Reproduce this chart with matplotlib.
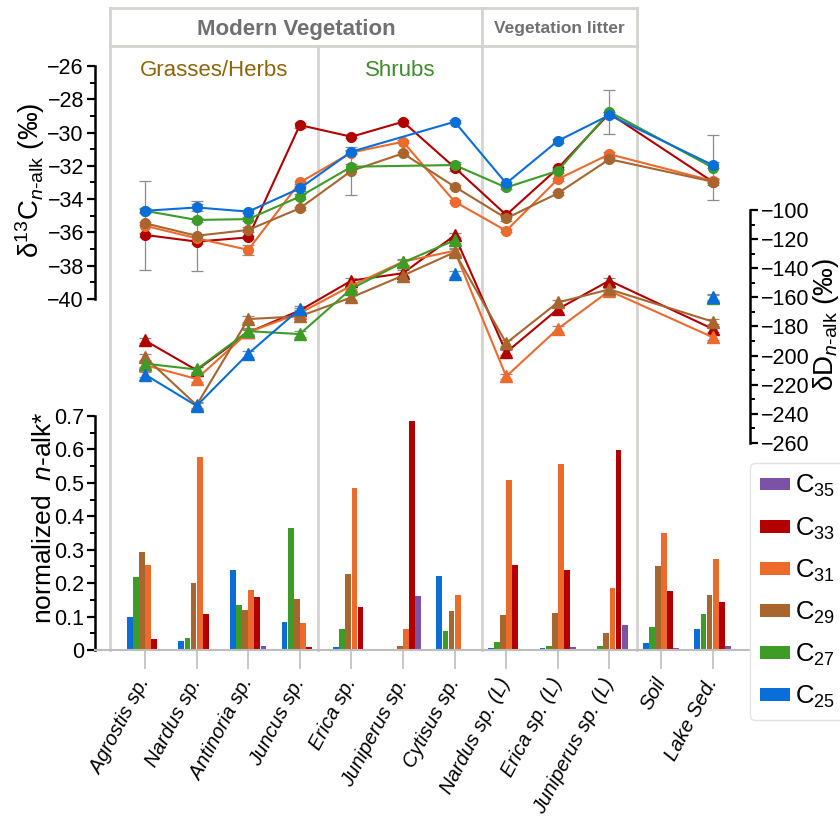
import numpy as np
import matplotlib
matplotlib.use("Agg")
import matplotlib.pyplot as plt
from matplotlib.patches import Patch
from matplotlib.ticker import MultipleLocator

plt.rcParams['font.family'] = ['Liberation Sans', 'DejaVu Sans']
plt.rcParams['mathtext.fontset'] = 'custom'
plt.rcParams['mathtext.rm'] = 'Liberation Sans'
plt.rcParams['mathtext.it'] = 'Liberation Sans:italic'

nan = np.nan

samples = ["Agrostis sp.", "Nardus sp.", "Antinoria sp.", "Juncus sp.", "Erica sp.",
           "Juniperus sp.", "Cytisus sp.", "Nardus sp. (L)", "Erica sp. (L)",
           "Juniperus sp. (L)", "Soil", "Lake Sed."]

# d13C of n-alkanes (permil)
d13c_c25 = [-34.7, -34.5, -34.75, -33.35, -31.15, nan, -29.35, -33.05, -30.5, -28.95, nan, -31.95]
d13c_c27 = [-34.7, -35.25, -35.2, -33.85, -32.05, nan, -31.95, -33.3, -32.3, -28.75, nan, -32.1]
d13c_c29 = [-35.45, -36.2, -35.85, -34.55, -32.3, -31.25, -33.25, -35.15, -33.65, -31.6, nan, -32.95]
d13c_c31 = [-35.6, -36.35, -37.05, -33.0, -31.2, -30.55, -34.15, -35.9, -32.8, -31.3, nan, -32.9]
d13c_c33 = [-36.15, -36.55, -36.3, -29.55, -30.25, -29.35, -32.1, -34.95, -32.15, -28.85, nan, -32.95]

# standard deviations (mostly small)
e13c_c25 = [0.15, 0.2, 0.1, 0.15, 0.1, nan, 0.1, 0.1, 0.1, 0.2, nan, 0.2]
e13c_c27 = [0.1, 0.1, 0.1, 0.15, 0.15, nan, 0.2, 0.1, 0.1, 1.33, nan, 1.95]
e13c_c29 = [0.1, 2.1, 0.15, 0.1, 1.45, 0.1, 0.1, 0.15, 0.1, 0.1, nan, 0.2]
e13c_c31 = [2.68, 0.15, 0.3, 0.1, 0.1, 0.1, 0.1, 0.1, 0.1, 0.15, nan, 0.1]
e13c_c33 = [0.1, 0.15, 0.1, 0.15, 0.1, 0.1, 0.2, 0.1, 0.1, 0.1, nan, 0.1]

# dD of n-alkanes (permil)
dd_c25 = [-213, -234.5, -198.7, -168, nan, nan, -144, nan, nan, nan, nan, -160]
dd_c27 = [-205.5, -209.5, -183.2, -185.2, -154, -136, -120.8, nan, nan, nan, nan, -160.5]
dd_c29 = [-201, -234, -174.9, -173, -160, -145, -129, -191.4, -163.5, -154.5, nan, -176.6]
dd_c31 = [-206.5, -216, -184, -170.8, -152, -135.5, -128, -214.3, -181.6, -155.5, nan, -187.3]
dd_c33 = [-189.6, -210, -184.1, -169, -148.5, -143.4, -117.5, -197.8, -168.1, -148.5, nan, -181.6]

# normalized n-alkane abundance
ab_c25 = [0.100, 0.027, 0.239, 0.084, 0.009, 0.001, 0.220, 0.007, 0.006, 0.002, 0.022, 0.063]
ab_c27 = [0.217, 0.036, 0.134, 0.365, 0.062, 0.001, 0.058, 0.025, 0.013, 0.011, 0.068, 0.109]
ab_c29 = [0.293, 0.200, 0.119, 0.152, 0.228, 0.012, 0.117, 0.106, 0.111, 0.050, 0.250, 0.165]
ab_c31 = [0.253, 0.577, 0.180, 0.081, 0.484, 0.062, 0.165, 0.508, 0.555, 0.185, 0.349, 0.271]
ab_c33 = [0.034, 0.107, 0.160, 0.009, 0.130, 0.685, 0.002, 0.253, 0.240, 0.597, 0.176, 0.143]
ab_c35 = [0.001, 0.002, 0.012, 0.004, 0.001, 0.162, 0.001, 0.004, 0.010, 0.074, 0.007, 0.012]

col = {"C25": "#0a6ed8", "C27": "#3c9c26", "C29": "#a8652e",
       "C31": "#ec6a2c", "C33": "#b20000", "C35": "#7b52a6"}

W, H = 840, 822


def rect(x0, y0, x1, y1):
    return [x0 / W, 1 - y1 / H, (x1 - x0) / W, (y1 - y0) / H]


fig = plt.figure(figsize=(W / 100, H / 100), dpi=100)
XL = (-0.969, 11.725)
x = np.arange(len(samples))

# background frame / separators
ax_bg = fig.add_axes(rect(95, 0, 750, 822))
ax_bg.set_xlim(XL)
ax_bg.set_ylim(822, 0)
ax_bg.axis("off")
gc = "#d3d3cf"
left_e, grass_e, mod_e, right_e = -0.68, 3.35, 6.53, 9.53
ax_bg.plot([left_e, right_e], [8, 8], color=gc, lw=2, clip_on=False)
ax_bg.plot([left_e, right_e], [46, 46], color=gc, lw=2, clip_on=False)
for xe in [left_e, mod_e, right_e]:
    ax_bg.plot([xe, xe], [8, 650], color=gc, lw=2, clip_on=False)
ax_bg.plot([grass_e, grass_e], [46, 650], color=gc, lw=2, clip_on=False)
ax_bg.text((left_e + mod_e) / 2, 29, "Modern Vegetation", ha="center", va="center",
           fontsize=16, fontweight="bold", color="#707070")
ax_bg.text((mod_e + right_e) / 2, 28, "Vegetation litter", ha="center", va="center",
           fontsize=12.5, fontweight="bold", color="#707070")
ax_bg.text((left_e + grass_e) / 2, 70, "Grasses/Herbs", ha="center", va="center",
           fontsize=16, color="#8b6508")
ax_bg.text((grass_e + mod_e) / 2, 70, "Shrubs", ha="center", va="center",
           fontsize=16, color="#3d8b2a")

# bars
ax_b = fig.add_axes(rect(95, 416, 750, 650))
ax_b.patch.set_visible(False)
bw = 0.118
bars = [("C25", ab_c25), ("C27", ab_c27), ("C29", ab_c29),
        ("C31", ab_c31), ("C33", ab_c33), ("C35", ab_c35)]
for k, (name, vals) in enumerate(bars):
    ax_b.bar(x + (k - 2.5) * bw, vals, width=bw * 0.95, color=col[name], zorder=2)
ax_b.set_xlim(XL)
ax_b.set_ylim(0, 0.7)
ax_b.yaxis.set_minor_locator(MultipleLocator(0.05))
ax_b.set_yticks([0, 0.1, 0.2, 0.3, 0.4, 0.5, 0.6, 0.7])
ax_b.set_yticklabels(["0", "0.1", "0.2", "0.3", "0.4", "0.5", "0.6", "0.7"])
for s in ["top", "right"]:
    ax_b.spines[s].set_visible(False)
ax_b.spines["left"].set_linewidth(1.8)
ax_b.spines["bottom"].set_color("#bdbdbd")
ax_b.spines["bottom"].set_linewidth(1.5)
ax_b.tick_params(axis="y", which="major", length=6, width=1.6, labelsize=15.5, pad=2)
ax_b.tick_params(axis="y", which="minor", length=3.5, width=1.4)
ax_b.set_xticks(x)
ax_b.set_xticklabels(samples, rotation=62, ha="right", va="center",
                     rotation_mode="anchor", fontsize=14.5, style="italic")
ax_b.tick_params(axis="x", length=14, width=1.2, color="#bdbdbd", pad=7)

# dD axis
ax_d = fig.add_axes(rect(95, 210, 750, 443))
ax_d.patch.set_visible(False)
ax_d.set_xlim(XL)
ax_d.set_ylim(-260, -100)
for s in ["top", "left", "bottom"]:
    ax_d.spines[s].set_visible(False)
ax_d.spines["right"].set_linewidth(1.8)
ax_d.yaxis.tick_right()
ax_d.set_yticks(np.arange(-260, -99, 20))
ax_d.yaxis.set_minor_locator(MultipleLocator(10))
ax_d.tick_params(axis="y", which="major", length=6, width=1.6, labelsize=15.5, pad=2)
ax_d.tick_params(axis="y", which="minor", length=3.5, width=1.4)
ax_d.set_xticks([])

# d13C axis
ax_c = fig.add_axes(rect(95, 66, 750, 299))
ax_c.patch.set_visible(False)
ax_c.set_xlim(XL)
ax_c.set_ylim(-40, -26)
for s in ["top", "right", "bottom"]:
    ax_c.spines[s].set_visible(False)
ax_c.spines["left"].set_linewidth(1.8)
ax_c.set_yticks(np.arange(-40, -25, 2))
ax_c.yaxis.set_minor_locator(MultipleLocator(1))
ax_c.tick_params(axis="y", which="major", length=6, width=1.6, labelsize=15.5, pad=2)
ax_c.tick_params(axis="y", which="minor", length=3.5, width=1.4)
ax_c.set_xticks([])


def draw(ax, vals, errs, color, marker, ms, join):
    v = np.array(vals, dtype=float)
    ok = ~np.isnan(v)
    if errs is not None:
        ax.errorbar(x[ok], v[ok], yerr=np.array(errs, dtype=float)[ok], fmt="none",
                    ecolor="#8c8c8c", elinewidth=0.9, capsize=4.5, capthick=0.9,
                    zorder=2, clip_on=False)
    if join:
        ax.plot(x[ok], v[ok], color=color, lw=1.5, marker=marker, ms=ms,
                mec=color, zorder=3, clip_on=False)
    else:
        ax.plot(x, v, color=color, lw=1.5, marker=marker, ms=ms,
                mec=color, zorder=3, clip_on=False)


dd_err = [2.0] * len(samples)
for name, c13, e13, dd, join in [("C33", d13c_c33, e13c_c33, dd_c33, True),
                                 ("C31", d13c_c31, e13c_c31, dd_c31, True),
                                 ("C29", d13c_c29, e13c_c29, dd_c29, True),
                                 ("C27", d13c_c27, e13c_c27, dd_c27, False),
                                 ("C25", d13c_c25, e13c_c25, dd_c25, False)]:
    draw(ax_d, dd, dd_err, col[name], "^", 8, join)
    draw(ax_c, c13, e13, col[name], "o", 7, True)

# axis titles
fig.text(30 / W, 1 - 180 / H, "δ$^{13}$C$_{\\mathit{n}\\text{-alk}}$ (‰)",
         rotation=90, ha="center", va="center", fontsize=20)
fig.text(44 / W, 1 - 518 / H, "normalized  $\\mathit{n}$-alk*",
         rotation=90, ha="center", va="center", fontsize=19)
fig.text(826 / W, 1 - 325 / H, "δD$_{\\mathit{n}\\text{-alk}}$ (‰)",
         rotation=90, ha="center", va="center", fontsize=20)

# legend
order = ["C35", "C33", "C31", "C29", "C27", "C25"]
handles = [Patch(facecolor=col[n], edgecolor="none") for n in order]
labels = ["C$_{%s}$" % n[1:] for n in order]
leg = fig.legend(handles, labels, loc="upper left", bbox_to_anchor=(750 / W, 1 - 463 / H),
                 borderaxespad=0, fontsize=18.5, handlelength=1.15, handleheight=0.38,
                 labelspacing=0.62, handletextpad=0.2, borderpad=0.4, frameon=True,
                 fancybox=True, framealpha=1, edgecolor="#e2e2e2")
leg.get_frame().set_linewidth(1.0)

fig.savefig("out.png", dpi=100)
